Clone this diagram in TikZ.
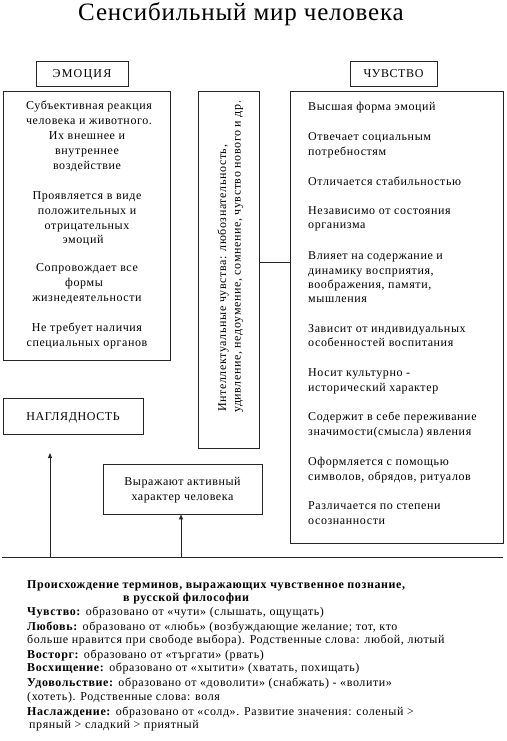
\documentclass[tikz,border=0pt]{standalone}
\usepackage{fontspec}
\setmainfont{Liberation Serif}[LetterSpace=5]
\newfontfamily\titlefont{Liberation Serif}[LetterSpace=3.2]
\newfontfamily\capsfont{Liberation Serif}[LetterSpace=10]
\usetikzlibrary{arrows.meta}
\tikzset{
  box/.style={draw=black!85, line width=0.9pt, inner sep=0pt, minimum width=#1},
  txt/.style={inner sep=0pt, font=\fontsize{12}{14}\selectfont},
  ltxt/.style={txt, anchor=base west},
  ctxt/.style={txt, anchor=base},
  line/.style={draw=black!85, line width=0.9pt},
  arr/.style={line, -{Triangle[width=4pt,length=5pt]}}
}
\begin{document}
\begin{tikzpicture}[x=1pt,y=-1pt]
\useasboundingbox (0,0) rectangle (506,741);
% title
\node[inner sep=0pt, anchor=base, font=\titlefont\fontsize{25}{28}\selectfont] (title) at (241,21) {Сенсибильный мир человека};
% header boxes
\node[box=92pt, minimum height=25pt] (emo) at (82,73.5) {};
\node[ctxt, font=\capsfont\fontsize{12}{14}\selectfont] (emot) at (82,77.5) {ЭМОЦИЯ};
\node[box=87pt, minimum height=25pt] (chuv) at (393.5,73.5) {};
\node[ctxt] (chuvt) at (393.5,77.5) {ЧУВСТВО};
% main boxes
\node[box=167pt, minimum height=269pt] (lbox) at (86.5,225.5) {};
\node[box=61pt, minimum height=357pt] (mbox) at (228.5,269.5) {};
\node[box=213pt, minimum height=452pt] (rbox) at (396.5,317) {};
% left box text
\node[ctxt] (l1) at (89,109.5) {Субъективная реакция};
\node[ctxt] (l2) at (89,124.5) {человека и животного.};
\node[ctxt] (l3) at (87,139.5) {Их внешнее и};
\node[ctxt] (l4) at (87,154.5) {внутреннее};
\node[ctxt] (l5) at (87,169.5) {воздействие};
\node[ctxt] (l6) at (87,199.5) {Проявляется в виде};
\node[ctxt] (l7) at (87,214.5) {положительных и};
\node[ctxt] (l8) at (87,229.5) {отрицательных};
\node[ctxt] (l9) at (83,243.5) {эмоций};
\node[ctxt] (l10) at (87,271.5) {Сопровождает все};
\node[ctxt] (l11) at (84,286.5) {формы};
\node[ctxt] (l12) at (87,301.5) {жизнедеятельности};
\node[ctxt] (l13) at (87,331.5) {Не требует наличия};
\node[ctxt] (l14) at (87,346.5) {специальных органов};
% middle vertical text
\node[ltxt, rotate=90] (m1) at (226,412) {Интеллектуальные чувства: любознательность,};
\node[ltxt, rotate=90] (m2) at (240.5,413) {удивление, недоумение, сомнение, чувство нового и др.};
% right box text
\node[ltxt] (r1) at (308,110.5) {Высшая форма эмоций};
\node[ltxt] (r2) at (308,140.5) {Отвечает социальным};
\node[ltxt] (r3) at (308,155.5) {потребностям};
\node[ltxt] (r4) at (308,185.5) {Отличается стабильностью};
\node[ltxt] (r5) at (308,214.5) {Независимо от состояния};
\node[ltxt] (r6) at (308,228.5) {организма};
\node[ltxt] (r7) at (308,259.5) {Влияет на содержание и};
\node[ltxt] (r8) at (308,274.5) {динамику восприятия,};
\node[ltxt] (r9) at (308,288.5) {воображения, памяти,};
\node[ltxt] (r10) at (308,302.5) {мышления};
\node[ltxt] (r11) at (308,332.5) {Зависит от индивидуальных};
\node[ltxt] (r12) at (308,346.5) {особенностей воспитания};
\node[ltxt] (r13) at (308,376.5) {Носит культурно -};
\node[ltxt] (r14) at (308,391.5) {исторический характер};
\node[ltxt] (r15) at (308,420.5) {Содержит в себе переживание};
\node[ltxt] (r16) at (308,435.5) {значимости(смысла) явления};
\node[ltxt] (r17) at (308,465.5) {Оформляется с помощью};
\node[ltxt] (r18) at (308,480.5) {символов, обрядов, ритуалов};
\node[ltxt] (r19) at (308,509.5) {Различается по степени};
\node[ltxt] (r20) at (308,524.5) {осознанности};
% connector middle -> right
\coordinate (cy) at (0,262);
\draw[line] (mbox.east |- cy) -- (rbox.west |- cy);
% lower boxes
\node[box=140pt, minimum height=36pt] (nagl) at (73,416) {};
\node[ctxt] (naglt) at (73,420) {НАГЛЯДНОСТЬ};
\node[box=159pt, minimum height=50pt] (vyr) at (182.5,489) {};
\node[ctxt] (v1) at (182.5,485.5) {Выражают активный};
\node[ctxt] (v2) at (182.5,500.5) {характер человека};
% base line and arrows
\coordinate (hl) at (2,557);
\coordinate (hr) at (503,557);
\draw[line] (hl) -- (hr);
\coordinate (a1s) at (50,557);
\coordinate (a1e) at (50,453);
\draw[arr] (a1s) -- (a1e);
\coordinate (a2s) at (181,557);
\draw[arr] (a2s) -- (a2s |- vyr.south);
% bottom text
\node[ltxt] (b1) at (27,588.5) {\bfseries Происхождение терминов, выражающих чувственное познание,};
\node[ltxt] (b2) at (123,601.5) {\bfseries в русской философии};
\node[ltxt] (b3) at (27,615.5) {\textbf{Чувство:} образовано от «чути» (слышать, ощущать)};
\node[ltxt] (b4) at (27,630.5) {\textbf{Любовь:} образовано от «любь» (возбуждающие желание; тот, кто};
\node[ltxt] (b5) at (27,643.5) {больше нравится при свободе выбора). Родственные слова: любой, лютый};
\node[ltxt] (b6) at (27,658.5) {\textbf{Восторг:} образовано от «търгати» (рвать)};
\node[ltxt] (b7) at (27,671.5) {\textbf{Восхищение:} образовано от «хытити» (хватать, похищать)};
\node[ltxt] (b8) at (27,686.5) {\textbf{Удовольствие:} образовано от «доволити» (снабжать) - «волити»};
\node[ltxt] (b9) at (27,700.5) {(хотеть). Родственные слова: воля};
\node[ltxt] (b10) at (27,715.5) {\textbf{Наслаждение:} образовано от «солд». Развитие значения: соленый >};
\node[ltxt] (b11) at (29,728.5) {пряный > сладкий > приятный};
\end{tikzpicture}
\end{document}
